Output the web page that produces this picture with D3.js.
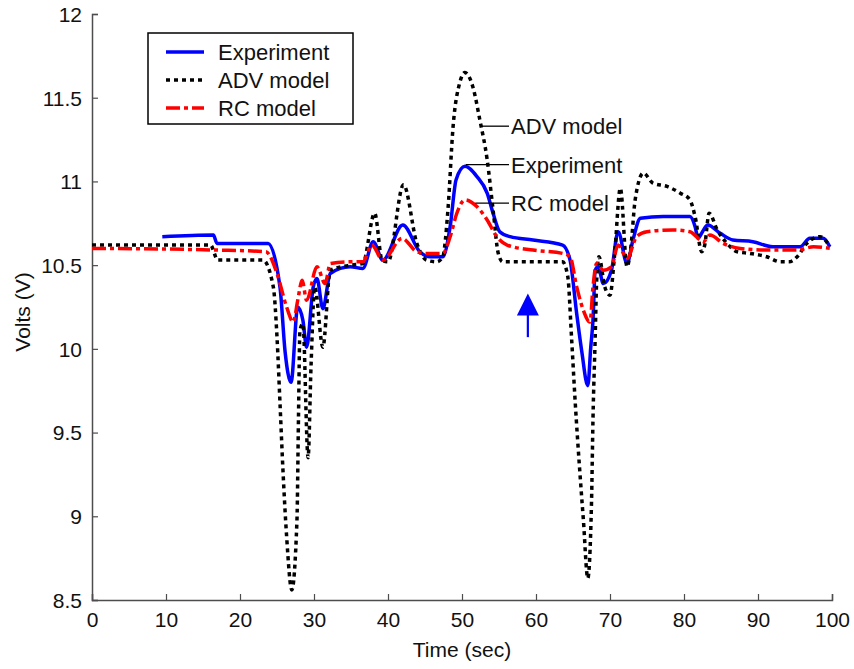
<!DOCTYPE html>
<html>
<head>
<meta charset="utf-8">
<script src="https://cdn.jsdelivr.net/npm/d3@7"></script>
<style>
  html, body { margin: 0; padding: 0; background: #fff; }
  svg { display: block; font-family: "Liberation Sans", Arial, sans-serif; }
</style>
</head>
<body>
<svg id="chart" width="854" height="669"></svg>
<script>
// ---- data ----
const expTime = [9.5,16.4,16.9,20,23.8,25.4,26.1,26.9,27.8,28.5,29.0,29.9,30.4,31.2,32.2,34.9,36.6,38.0,39.3,42.0,44.3,45.7,47.4,48.4,49.2,50.4,52.0,53.4,54.2,55.1,56.5,59.6,63.6,64.6,65.5,66.2,67.0,67.4,67.7,68.0,68.4,69.1,70.2,71.1,72.3,73.1,74.1,77.2,80.8,81.5,81.9,82.5,83.2,84.9,86.6,89.3,92.0,95.7,97.0,98.8,99.7];
const expVolts = [10.67,10.68,10.63,10.63,10.63,10.37,9.98,9.80,10.25,10.17,10.01,10.37,10.42,10.24,10.45,10.49,10.48,10.64,10.53,10.74,10.58,10.55,10.55,10.73,11.01,11.09,11.03,10.93,10.81,10.70,10.67,10.65,10.62,10.53,10.21,9.98,9.78,10.01,10.17,10.47,10.49,10.39,10.47,10.70,10.51,10.65,10.78,10.79,10.79,10.73,10.66,10.70,10.74,10.69,10.65,10.64,10.61,10.61,10.66,10.66,10.61];

const advTime = [0,16,17,23.1,24.5,25.0,25.4,25.8,26.3,27.0,27.7,27.9,28.1,28.5,29.2,29.6,30.1,31.2,32.2,35,36.6,38.2,39.2,40.0,42.1,43.9,45.2,46.6,47.4,48.1,48.8,49.7,50.4,51.5,52.4,53.4,54.2,54.9,55.5,63.6,64.3,64.8,65.3,65.9,66.4,67.0,67.5,67.7,68.0,68.2,68.5,69.3,70.0,70.6,71.4,72.3,72.8,73.4,74.5,75.8,77.7,79.5,80.8,81.5,82.4,82.8,83.4,84.5,85.8,87.2,88.9,91.2,93.0,94.2,95.3,96.6,98.4,99.7];
const advVolts = [10.62,10.62,10.53,10.53,10.37,10.07,9.68,9.28,8.88,8.56,8.98,9.58,10.11,10.15,9.35,9.9,10.37,10.01,10.47,10.50,10.51,10.81,10.53,10.52,10.98,10.63,10.53,10.52,10.55,10.83,11.33,11.59,11.65,11.56,11.37,11.13,10.83,10.57,10.52,10.52,10.43,10.07,9.68,9.28,8.98,8.63,9.08,9.58,10.07,10.41,10.55,10.37,10.32,10.55,10.96,10.49,10.60,10.89,11.05,10.99,10.97,10.93,10.89,10.79,10.58,10.62,10.81,10.71,10.63,10.58,10.57,10.55,10.52,10.52,10.55,10.63,10.67,10.61];

const rcTime = [0,17,23.5,25.0,26.3,27.2,27.8,28.4,29.0,30.4,31.5,32.2,34.9,36.6,37.8,39.3,41.9,43.9,45.2,47.4,48.4,49.3,50.4,52.0,53.4,54.7,56.1,59.6,63.6,64.6,65.5,66.4,67.3,67.7,68.2,69.1,70.2,71.1,72.3,73.6,75.0,78.5,80.8,82.2,82.6,83.5,85.3,87.6,91.2,95.3,97.5,99.7];
const rcVolts = [10.60,10.59,10.58,10.45,10.25,10.16,10.29,10.41,10.29,10.49,10.39,10.51,10.52,10.52,10.62,10.53,10.66,10.58,10.57,10.57,10.67,10.81,10.89,10.85,10.77,10.67,10.62,10.59,10.57,10.55,10.37,10.23,10.16,10.37,10.51,10.47,10.49,10.62,10.54,10.67,10.70,10.71,10.70,10.65,10.64,10.68,10.63,10.60,10.59,10.59,10.61,10.60];

const xTicks = [0,10,20,30,40,50,60,70,80,90,100];
const yTicks = [8.5,9,9.5,10,10.5,11,11.5,12];
const seriesNames = ["Experiment","ADV model","RC model"];
const annotations = [
  {name: "ADV model", t: 52.7, v: 11.33},
  {name: "Experiment", t: 50.5, v: 11.1},
  {name: "RC model", t: 51.8, v: 10.87}
];
const arrowTime = 58.9, arrowFrom = 10.07, arrowTo = 10.33;

// ---- layout ----
const svg = d3.select("#chart");
const x = d3.scaleLinear().domain([0,100]).range([92,832]);
const y = d3.scaleLinear().domain([8.5,12]).range([600,14]);
const axisColor = "#4d4d4d";

// axes (MATLAB-style inward ticks, left + bottom only)
const gx = svg.append("g").attr("transform","translate(0,600)")
  .call(d3.axisBottom(x).tickValues(xTicks).tickSize(-6).tickPadding(12).tickFormat(d3.format("d")));
const gy = svg.append("g").attr("transform","translate(92,0)")
  .call(d3.axisLeft(y).tickValues(yTicks).tickSize(-6).tickPadding(10).tickFormat(d => String(d)));
[gx, gy].forEach(g => {
  g.select(".domain").attr("stroke", axisColor).attr("stroke-width", 1.5);
  g.selectAll(".tick line").attr("stroke", axisColor).attr("stroke-width", 1.2);
  g.selectAll(".tick text").attr("fill", "#111").style("font-size", "21px")
    .style("font-family", '"Liberation Sans", Arial, sans-serif');
});
gy.selectAll(".tick text").attr("dy", "0.35em");

svg.append("text").attr("x", 462).attr("y", 657).attr("text-anchor","middle")
  .attr("fill","#111").style("font-size","21px").text("Time (sec)");
svg.append("text").attr("transform","translate(30,312) rotate(-90)").attr("text-anchor","middle")
  .attr("fill","#111").style("font-size","21px").text("Volts (V)");

// series
const line = d3.line().curve(d3.curveMonotoneX).x(d => x(d[0])).y(d => y(d[1]));
const styles = [
  {color:"#0000ff", dash:null},
  {color:"#000000", dash:"4,4"},
  {color:"#ff0000", dash:"14,4,4,4"}
];
const data = [d3.zip(expTime, expVolts), d3.zip(advTime, advVolts), d3.zip(rcTime, rcVolts)];
data.forEach((d,i) => {
  svg.append("path").datum(d).attr("d", line).attr("fill","none")
    .attr("stroke", styles[i].color).attr("stroke-width", 3.5)
    .attr("stroke-linejoin","round")
    .attr("stroke-dasharray", styles[i].dash);
});

// annotations
const annX1 = 509;
annotations.forEach(a => {
  svg.append("line").attr("x1", x(a.t)).attr("x2", annX1)
    .attr("y1", y(a.v)).attr("y2", y(a.v)).attr("stroke","#000").attr("stroke-width",1.3);
  svg.append("text").attr("x", annX1 + 2).attr("y", y(a.v)).attr("dy","0.36em")
    .attr("fill","#111").style("font-size","22px").text(a.name);
});

// arrow
const ax = x(arrowTime);
svg.append("line").attr("x1", ax).attr("x2", ax).attr("y1", y(arrowFrom)).attr("y2", y(arrowTo) + 20)
  .attr("stroke","#0000ff").attr("stroke-width", 2.2);
svg.append("path")
  .attr("d", `M${ax},${y(arrowTo)} L${ax-11},${y(arrowTo)+22} L${ax+11},${y(arrowTo)+22} Z`)
  .attr("fill","#0000ff");

// legend
const lg = svg.append("g");
lg.append("rect").attr("x",148).attr("y",33).attr("width",205).attr("height",91)
  .attr("fill","#fff").attr("stroke","#000").attr("stroke-width",1.5);
seriesNames.forEach((n,i) => {
  const yy = 52 + i*28;
  lg.append("line").attr("x1",166).attr("x2",204).attr("y1",yy).attr("y2",yy)
    .attr("stroke", styles[i].color).attr("stroke-width",3.5)
    .attr("stroke-dasharray", styles[i].dash);
  lg.append("text").attr("x",218).attr("y",yy).attr("dy","0.36em")
    .attr("fill","#111").style("font-size","22px").text(n);
});
</script>
</body>
</html>
